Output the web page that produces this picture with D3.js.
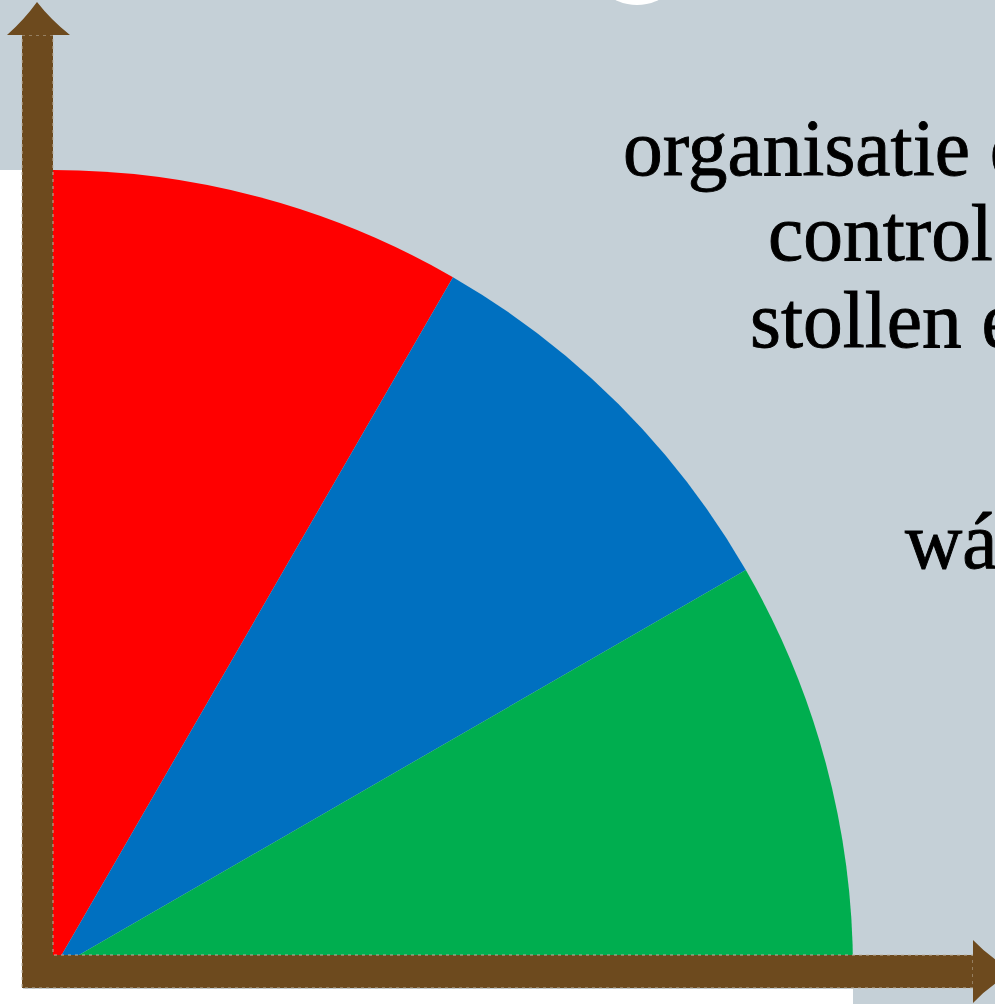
<!DOCTYPE html>
<html>
<head>
<meta charset="utf-8">
<script src="https://cdn.jsdelivr.net/npm/d3@7"></script>
<style>
  html, body { margin: 0; padding: 0; background: #ffffff; overflow: hidden; }
  svg { display: block; }
</style>
</head>
<body>
<svg id="chart"></svg>
<script>
let slices = ["rood", "blauw", "groen"]
let sliceValues = [1, 1, 1]
let sliceColors = ["#ff0000", "#0070c0", "#00ae4f"]
let textLines = ["organisatie en", "controle", "stollen en", "wát"]

let width = 995
let height = 1004
let cx = 53
let cy = 970
let radius = 800

let svg = d3.select("#chart")
    .attr("width", width)
    .attr("height", height)

// background: grey panel with white strip left and bottom
svg.append("rect")
    .attr("width", width)
    .attr("height", height)
    .attr("fill", "#c5d0d7")

svg.append("rect")
    .attr("x", 0).attr("y", 170)
    .attr("width", 23).attr("height", height - 170)
    .attr("fill", "#ffffff")

svg.append("rect")
    .attr("x", 0).attr("y", 989)
    .attr("width", 853).attr("height", height - 989)
    .attr("fill", "#ffffff")

svg.append("circle")
    .attr("cx", 637).attr("cy", -44).attr("r", 49)
    .attr("fill", "#ffffff")

// quarter pie
let rScale = d3.scaleLinear()
    .domain([0, 1])
    .range([0, radius])

let pie = d3.pie()
    .sort(null)
    .startAngle(0)
    .endAngle(Math.PI / 2)

let arc = d3.arc()
    .innerRadius(0)
    .outerRadius(rScale(1))

svg.append("g")
    .attr("transform", "translate(" + cx + "," + cy + ")")
    .selectAll("path")
    .data(pie(sliceValues))
    .enter()
    .append("path")
    .attr("d", arc)
    .attr("fill", (d, i) => sliceColors[i])

// text on the right
let label = svg.append("g")
    .style("font-family", "'Liberation Serif', 'DejaVu Serif', serif")
    .style("fill", "#000000")
    .style("stroke", "#000000")
    .style("stroke-width", 0.9)

let textPos = [[623, 175], [768, 260], [750, 347], [905, 568]]

let fs = 80
let probe = label.append("text").style("font-size", fs + "px").text("organisatie")
let w = probe.node().getComputedTextLength()
fs = fs * 347 / w
probe.remove()

label.selectAll("text")
    .data(textLines)
    .enter()
    .append("text")
    .attr("x", (d, i) => textPos[i][0])
    .attr("y", (d, i) => textPos[i][1])
    .style("font-size", fs + "px")
    .text((d) => d)

// arrows for the axes
let brown = "#6d4a1e"
let edge = "#bdb3a3"

let axes = svg.append("g")

let shaft = d3.path()
shaft.moveTo(22, 35)
shaft.lineTo(53, 35)
shaft.lineTo(53, 955)
shaft.lineTo(973, 955)
shaft.lineTo(973, 988)
shaft.lineTo(22, 988)
shaft.closePath()

axes.append("path")
    .attr("d", shaft.toString())
    .attr("fill", brown)
    .attr("stroke", edge)
    .attr("stroke-width", 1)
    .attr("stroke-dasharray", "3,4")

let upHead = d3.path()
upHead.moveTo(7, 35)
upHead.quadraticCurveTo(24, 20, 37, 2)
upHead.quadraticCurveTo(51, 20, 70, 35)
upHead.closePath()

let rightHead = d3.path()
rightHead.moveTo(973, 940)
rightHead.quadraticCurveTo(992, 960, 1016, 971.5)
rightHead.quadraticCurveTo(992, 983, 973, 1003)
rightHead.closePath()

axes.append("path")
    .attr("d", upHead.toString())
    .attr("fill", brown)

axes.append("path")
    .attr("d", rightHead.toString())
    .attr("fill", brown)
</script>
</body>
</html>
